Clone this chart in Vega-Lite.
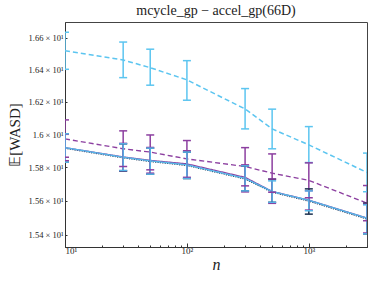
{
  "$schema": "https://vega.github.io/schema/vega-lite/v6.json",
  "autosize": "none",
  "width": 302,
  "height": 225,
  "padding": {"left": 65, "top": 22, "right": 7, "bottom": 36},
  "background": "white",
  "title": {"text": "mcycle_gp − accel_gp(66D)", "font": "Liberation Serif", "fontSize": 14, "fontWeight": "normal", "color": "#222", "offset": 4},
  "config": {
    "view": {"stroke": "#444", "strokeWidth": 1},
    "axis": {"grid": false, "domainColor": "#333", "tickColor": "#333", "labelColor": "#222", "titleColor": "#222", "labelFont": "Liberation Serif", "titleFont": "Liberation Serif", "titleFontWeight": "normal"}
  },
  "data": {"values": [
    {"s": "E", "n": 10, "m": 15.915, "lo": 15.831, "hi": 16.003},
    {"s": "E", "n": 30, "m": 15.857, "lo": 15.777, "hi": 15.942},
    {"s": "E", "n": 50, "m": 15.835, "lo": 15.759, "hi": 15.916},
    {"s": "E", "n": 100, "m": 15.811, "lo": 15.733, "hi": 15.892},
    {"s": "E", "n": 300, "m": 15.730, "lo": 15.659, "hi": 15.809},
    {"s": "E", "n": 500, "m": 15.651, "lo": 15.591, "hi": 15.729},
    {"s": "E", "n": 1000, "m": 15.598, "lo": 15.521, "hi": 15.671},
    {"s": "E", "n": 3000, "m": 15.492, "lo": 15.405, "hi": 15.586},
    {"s": "D", "n": 10, "m": 15.919, "lo": 15.840, "hi": 16.000},
    {"s": "D", "n": 30, "m": 15.863, "lo": 15.780, "hi": 15.945},
    {"s": "D", "n": 50, "m": 15.842, "lo": 15.765, "hi": 15.920},
    {"s": "D", "n": 100, "m": 15.821, "lo": 15.740, "hi": 15.900},
    {"s": "D", "n": 300, "m": 15.740, "lo": 15.653, "hi": 15.815},
    {"s": "D", "n": 500, "m": 15.656, "lo": 15.585, "hi": 15.730},
    {"s": "D", "n": 1000, "m": 15.604, "lo": 15.545, "hi": 15.660},
    {"s": "D", "n": 3000, "m": 15.498, "lo": 15.410, "hi": 15.580},
    {"s": "B", "n": 10, "m": 15.972, "lo": 15.861, "hi": 16.088},
    {"s": "B", "n": 30, "m": 15.912, "lo": 15.805, "hi": 16.021},
    {"s": "B", "n": 50, "m": 15.892, "lo": 15.785, "hi": 15.996},
    {"s": "B", "n": 100, "m": 15.851, "lo": 15.735, "hi": 15.962},
    {"s": "B", "n": 300, "m": 15.805, "lo": 15.689, "hi": 15.919},
    {"s": "B", "n": 500, "m": 15.765, "lo": 15.651, "hi": 15.881},
    {"s": "B", "n": 1000, "m": 15.722, "lo": 15.618, "hi": 15.827},
    {"s": "B", "n": 3000, "m": 15.586, "lo": 15.482, "hi": 15.691},
    {"s": "C", "n": 10, "m": 15.919, "lo": 15.831, "hi": 16.003},
    {"s": "C", "n": 30, "m": 15.861, "lo": 15.781, "hi": 15.942},
    {"s": "C", "n": 50, "m": 15.839, "lo": 15.759, "hi": 15.916},
    {"s": "C", "n": 100, "m": 15.815, "lo": 15.733, "hi": 15.892},
    {"s": "C", "n": 300, "m": 15.734, "lo": 15.659, "hi": 15.809},
    {"s": "C", "n": 500, "m": 15.655, "lo": 15.591, "hi": 15.719},
    {"s": "C", "n": 1000, "m": 15.603, "lo": 15.541, "hi": 15.659},
    {"s": "C", "n": 3000, "m": 15.497, "lo": 15.405, "hi": 15.576},
    {"s": "A", "n": 10, "m": 16.518, "lo": 16.401, "hi": 16.634},
    {"s": "A", "n": 30, "m": 16.459, "lo": 16.349, "hi": 16.572},
    {"s": "A", "n": 50, "m": 16.411, "lo": 16.302, "hi": 16.527},
    {"s": "A", "n": 100, "m": 16.335, "lo": 16.209, "hi": 16.455},
    {"s": "A", "n": 300, "m": 16.155, "lo": 16.033, "hi": 16.281},
    {"s": "A", "n": 500, "m": 16.033, "lo": 15.912, "hi": 16.154},
    {"s": "A", "n": 1000, "m": 15.936, "lo": 15.829, "hi": 16.047},
    {"s": "A", "n": 3000, "m": 15.769, "lo": 15.654, "hi": 15.886}
  ]},
  "encoding": {
    "x": {"field": "n", "type": "quantitative",
      "scale": {"type": "log", "domain": [10, 3000], "nice": false},
      "axis": {"values": [10,20,30,40,50,60,70,80,90,100,200,300,400,500,600,700,800,900,1000,2000,3000],
        "labelExpr": "datum.value == 10 ? '10¹' : datum.value == 100 ? '10²' : datum.value == 1000 ? '10³' : ''",
        "labelFontSize": 9, "labelPadding": 3,
        "tickSize": {"condition": {"test": "datum.value == 10 || datum.value == 100 || datum.value == 1000", "value": -4}, "value": -2},
        "title": "n", "titleFontStyle": "italic", "titleFontSize": 16, "titlePadding": 1}},
    "color": {"field": "s", "type": "nominal", "legend": null,
      "scale": {"domain": ["E", "D", "B", "C", "A"], "range": ["#1b2f4e", "#8c3fa0", "#8c3fa0", "#55b5e8", "#5cc5f0"]}}
  },
  "layer": [
    {"mark": {"type": "line", "clip": true, "opacity": 1},
     "encoding": {
       "y": {"field": "m", "type": "quantitative",
         "scale": {"type": "log", "domain": [15.328, 16.699], "nice": false, "zero": false},
         "axis": {"values": [15.4, 15.6, 15.8, 16.0, 16.2, 16.4, 16.6],
           "labelExpr": "format(datum.value/10, '.3~g') + ' × 10¹'",
           "labelFontSize": 8.5, "tickSize": -2, "labelPadding": 4,
           "title": "𝔼[WASD]", "titleFontSize": 15, "titlePadding": 6}},
       "strokeDash": {"field": "s", "type": "nominal", "legend": null,
         "scale": {"domain": ["E", "D", "B", "C", "A"], "range": [[1.2, 1.2], [1, 0], [5, 3], [1, 0], [5, 3]]}},
       "strokeWidth": {"field": "s", "type": "nominal", "legend": null,
         "scale": {"domain": ["E", "D", "B", "C", "A"], "range": [1.2, 1.5, 1.5, 1.5, 1.5]}}
     }},
    {"mark": {"type": "rule", "clip": true, "strokeWidth": 1.5, "opacity": 1},
     "encoding": {"y": {"field": "lo", "type": "quantitative"}, "y2": {"field": "hi"}}},
    {"mark": {"type": "tick", "clip": true, "orient": "horizontal", "size": 8, "thickness": 1.5, "opacity": 1},
     "encoding": {"y": {"field": "lo", "type": "quantitative"}}},
    {"mark": {"type": "tick", "clip": true, "orient": "horizontal", "size": 8, "thickness": 1.5, "opacity": 1},
     "encoding": {"y": {"field": "hi", "type": "quantitative"}}}
  ]
}
